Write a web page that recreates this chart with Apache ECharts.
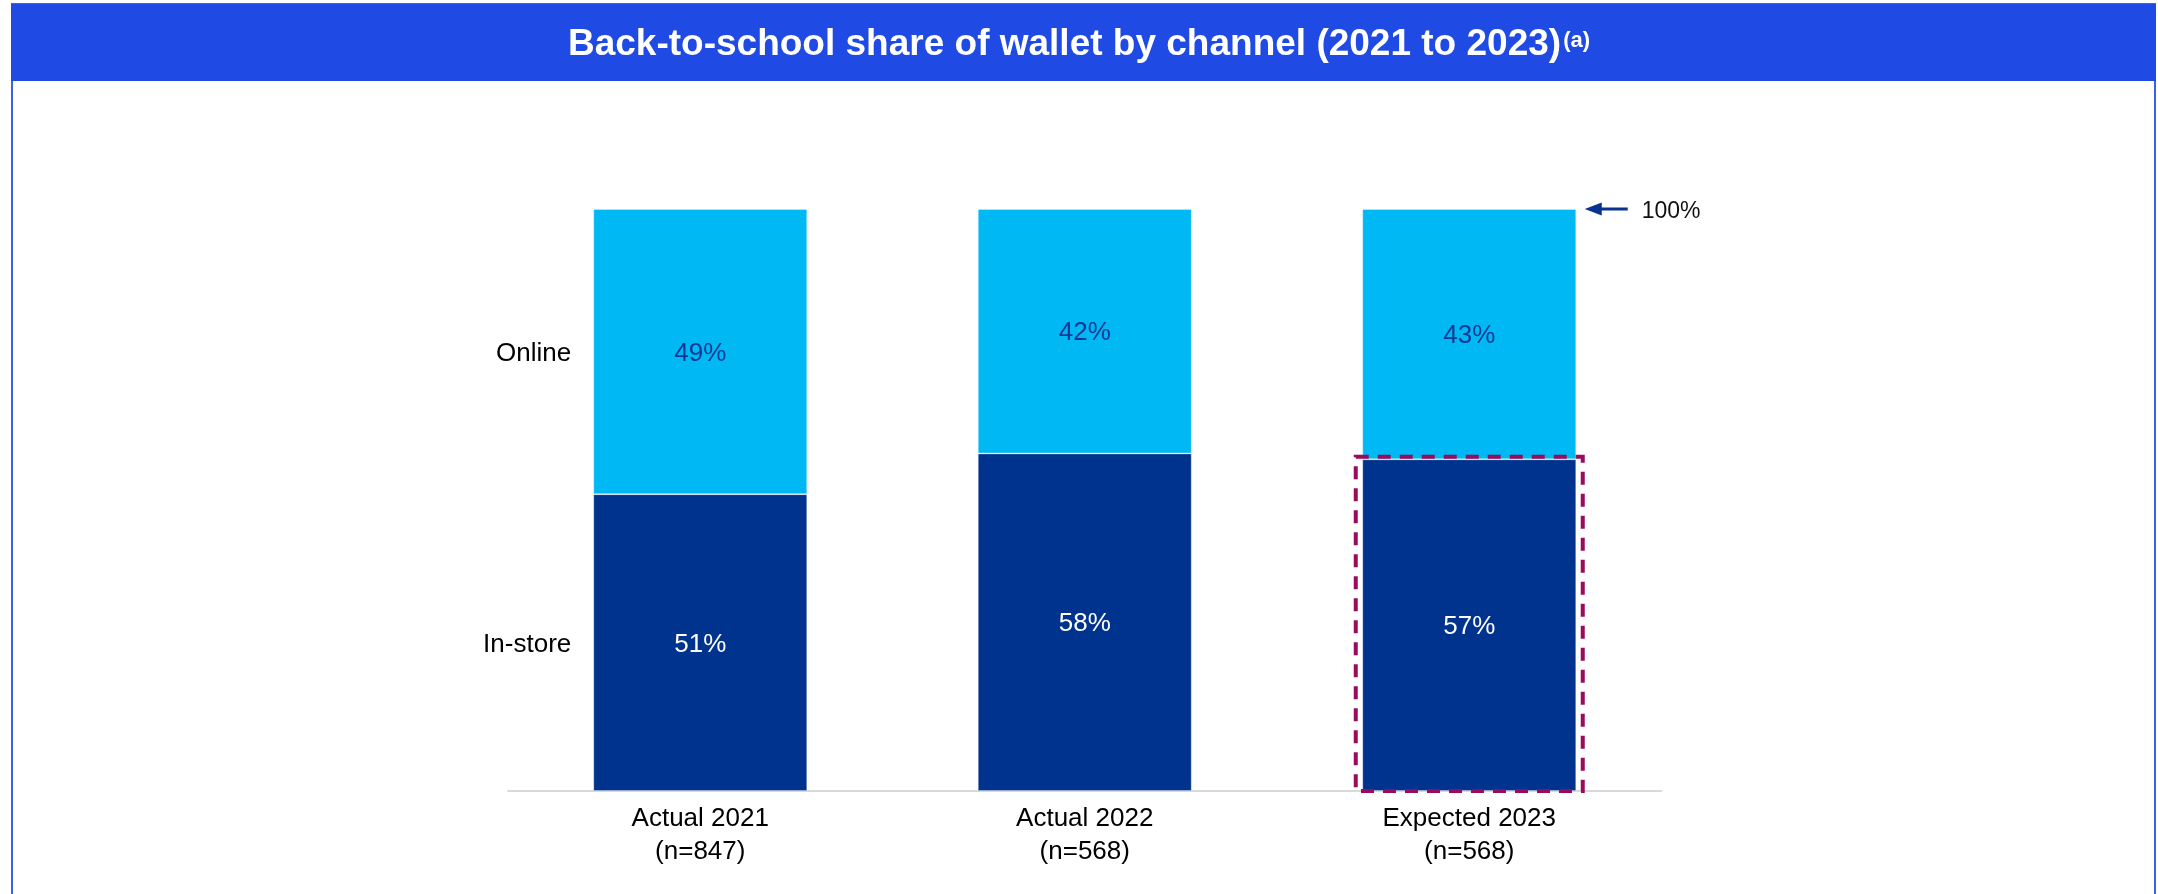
<!DOCTYPE html>
<html>
<head>
<meta charset="utf-8">
<script src="https://cdn.jsdelivr.net/npm/echarts@6/dist/echarts.min.js"></script>
<style>
html,body{margin:0;padding:0;background:#ffffff;}
#c{width:2158px;height:894px;}
</style>
</head>
<body>
<div id="c"></div>
<script>
// ---- data ----
const categories = ['Actual 2021', 'Actual 2022', 'Expected 2023'];
const sampleSizes = ['n=847', 'n=568', 'n=568'];
const seriesNames = ['In-store', 'Online'];
const inStore = [51, 58, 57];
const online = [49, 42, 43];
const highlightCategory = 'Expected 2023';
const titleText = 'Back-to-school share of wallet by channel (2021 to 2023)';
const titleNote = '(a)';

// ---- chart ----
const FONT = '"Liberation Sans", Arial, Helvetica, sans-serif';
const BAR_W = 214;
const hiIdx = categories.indexOf(highlightCategory);
const lastIdx = categories.length - 1;
const total = inStore[lastIdx] + online[lastIdx];

const chart = echarts.init(document.getElementById('c'), null, {renderer: 'canvas'});

const option = {
  animation: false,
  backgroundColor: '#ffffff',
  textStyle: {fontFamily: FONT},
  graphic: [
    {type: 'rect', z: 0, silent: true,
     shape: {x: 12, y: 4, width: 2143, height: 920},
     style: {fill: 'none', stroke: '#3f61ea', lineWidth: 2}},
    {type: 'rect', z: 1, silent: true,
     shape: {x: 11, y: 4, width: 2145, height: 77},
     style: {fill: '#1f4ae3'}}
  ],
  title: {
    text: '{m|' + titleText + '}{s|' + titleNote + '}',
    left: 'center',
    top: 23,
    padding: [0, 0, 0, 9],
    textStyle: {
      rich: {
        m: {fontSize: 37, fontWeight: 'bold', color: '#ffffff', fontFamily: FONT, lineHeight: 44},
        s: {fontSize: 22, fontWeight: 'bold', color: '#ffffff', fontFamily: FONT, lineHeight: 22,
            verticalAlign: 'top', padding: [7, 0, 0, 2]}
      }
    }
  },
  grid: {left: 508, right: 496.5, top: 209, bottom: 103},
  xAxis: {
    type: 'category',
    data: categories,
    axisLine: {lineStyle: {color: '#d9d9d9', width: 2}},
    axisTick: {show: false},
    axisLabel: {
      fontSize: 26, color: '#000000', lineHeight: 33, margin: 11, fontFamily: FONT,
      formatter: (v, i) => v + '\n(' + sampleSizes[i] + ')'
    }
  },
  yAxis: {type: 'value', min: 0, max: 100, show: false},
  series: [
    {
      name: seriesNames[0], type: 'bar', stack: 'total', barWidth: BAR_W, data: inStore,
      itemStyle: {color: '#00338d', borderColor: 'rgba(255,255,255,0.3)', borderWidth: 1},
      label: {show: true, position: 'inside', offset: [0, 2], formatter: '{c}%', color: '#ffffff', fontSize: 26, fontFamily: FONT},
      markPoint: {
        silent: true,
        data: [{
          name: seriesNames[0], coord: [categories[0], inStore[0] / 2],
          symbol: 'rect', symbolSize: [BAR_W, 1], itemStyle: {color: 'rgba(0,0,0,0)'},
          label: {show: true, position: 'left', distance: 22, offset: [0, 2], formatter: '{b}', color: '#000000', fontSize: 26, fontFamily: FONT}
        }]
      }
    },
    {
      name: seriesNames[1], type: 'bar', stack: 'total', barWidth: BAR_W, data: online,
      itemStyle: {color: '#00b8f4', borderColor: 'rgba(255,255,255,0.3)', borderWidth: 1},
      label: {show: true, position: 'inside', offset: [0, 2], formatter: '{c}%', color: '#0b3a96', fontSize: 26, fontFamily: FONT},
      markPoint: {
        silent: true,
        data: [
          {
            name: seriesNames[1], coord: [categories[0], inStore[0] + online[0] / 2],
            symbol: 'rect', symbolSize: [BAR_W, 1], itemStyle: {color: 'rgba(0,0,0,0)'},
            label: {show: true, position: 'left', distance: 22, offset: [0, 2], formatter: '{b}', color: '#000000', fontSize: 26, fontFamily: FONT}
          },
          {
            name: 'total', coord: [categories[lastIdx], total],
            symbol: 'path://M0,6.5L17,0L17,5L43,5L43,8L17,8L17,13Z',
            symbolSize: [43, 13], symbolOffset: [137, 0],
            itemStyle: {color: '#0a3291'},
            label: {show: true, position: 'right', distance: 14, offset: [0, 3], formatter: total + '%', color: '#111111', fontSize: 23, fontFamily: FONT}
          }
        ]
      }
    },
    {
      type: 'custom', name: 'highlight', z: 5, silent: true,
      data: [[hiIdx, inStore[hiIdx]]],
      encode: {x: 0, y: 1},
      renderItem: (params, api) => {
        const base = api.coord([api.value(0), 0]);
        const top = api.coord([api.value(0), api.value(1)]);
        const pad = 6.5;
        return {
          type: 'rect',
          shape: {x: base[0] - BAR_W / 2 - pad, y: top[1] - 2.5, width: BAR_W + 2 * pad, height: base[1] - top[1] + 2.5},
          style: {fill: 'none', stroke: '#9a0b5c', lineWidth: 4, lineDash: [13, 9]}
        };
      }
    }
  ]
};
chart.setOption(option);
</script>
</body>
</html>
